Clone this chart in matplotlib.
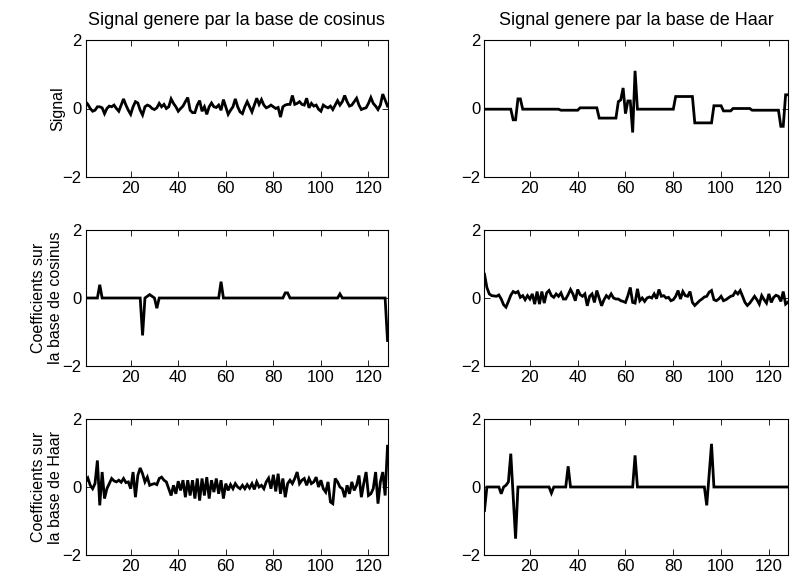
import matplotlib
matplotlib.use("Agg")
import matplotlib.pyplot as plt
import numpy as np

plt.rcParams['font.family'] = ['Liberation Sans', 'DejaVu Sans']

# index axis
n = np.arange(1, 129)

# Signal generated by cosine basis (top-left)
sig_cos = [
    0.20, 0.12, 0.00, -0.08, -0.05, 0.05, 0.05, 0.02, -0.15, 0.00,
    0.07, 0.05, 0.10, 0.00, -0.08, 0.10, 0.28, 0.10, -0.05, -0.17,
    0.05, 0.20, 0.16, -0.05, -0.19, 0.05, 0.10, 0.07, 0.00, -0.03,
    0.02, 0.15, 0.05, 0.12, 0.00, 0.05, 0.28, 0.15, 0.05, -0.08,
    0.00, 0.07, 0.20, 0.32, -0.05, -0.12, -0.12, 0.10, 0.23, -0.08,
    0.05, -0.17, 0.05, 0.16, 0.05, 0.03, 0.10, -0.05, 0.26, 0.05,
    -0.17, -0.05, 0.05, 0.28, 0.05, -0.10, -0.15, 0.05, 0.20, 0.05,
    -0.10, 0.10, 0.30, 0.12, 0.26, 0.10, 0.02, 0.05, 0.10, 0.05,
    0.00, 0.03, -0.25, 0.05, 0.10, 0.12, 0.12, 0.38, 0.12, 0.15,
    0.20, 0.12, 0.10, 0.30, 0.02, 0.15, 0.07, 0.10, -0.02, -0.08,
    0.10, 0.05, 0.02, 0.07, -0.03, 0.10, 0.23, 0.10, 0.20, 0.38,
    0.20, 0.07, 0.10, 0.20, 0.30, 0.10, -0.03, 0.00, 0.02, 0.15,
    0.32, 0.15, 0.07, -0.03, 0.10, 0.42, 0.25, 0.07,
]

# Signal generated by Haar basis (top-right)
sig_haar = (
    [-0.02] * 12 + [-0.33, -0.33, 0.28, 0.28] + [-0.02] * 16 + [-0.05] * 8
    + [0.02] * 8 + [-0.28] * 8
    + [0.20, 0.25, 0.60, -0.15, 0.22, 0.22, -0.70, 1.10]
    + [-0.02] * 16 + [0.35] * 8 + [-0.42] * 8 + [0.08] * 4 + [-0.07] * 4
    + [0.00] * 8 + [-0.05] * 12 + [-0.52, -0.52, 0.40, 0.40]
)

# Cosine coefficients of cosine signal (middle-left)
coef_cos_of_cos = [0.0] * 128
for idx, val in [(7, 0.39), (25, -1.10), (27, 0.05), (28, 0.10), (29, 0.05),
                 (31, -0.30), (58, 0.48), (85, 0.15), (86, 0.15), (108, 0.12),
                 (128, -1.25)]:
    coef_cos_of_cos[idx - 1] = val

# Cosine coefficients of Haar signal (middle-right)
coef_cos_of_haar = [
    0.70, 0.31, 0.12, 0.07, 0.06, 0.05, 0.09, -0.03, -0.20, -0.27,
    -0.10, 0.08, 0.19, 0.15, 0.19, 0.02, 0.07, -0.05, 0.07, -0.03,
    0.12, -0.18, 0.19, -0.18, 0.19, -0.15, 0.15, 0.22, 0.07, 0.02,
    0.12, 0.05, 0.15, -0.03, -0.03, 0.10, 0.25, 0.12, -0.08, 0.25,
    0.10, 0.05, 0.12, -0.23, 0.05, 0.12, -0.13, 0.22, 0.00, -0.23,
    -0.05, 0.07, 0.00, 0.12, 0.00, -0.03, -0.03, -0.08, -0.10, -0.13,
    0.07, 0.31, -0.13, -0.15, 0.27, -0.08, 0.00, -0.10, 0.00, 0.03,
    0.00, 0.12, -0.02, 0.25, 0.05, 0.07, 0.00, 0.02, -0.08, -0.05,
    0.05, 0.22, -0.03, 0.19, 0.07, 0.05, 0.19, -0.13, -0.22, -0.15,
    -0.08, -0.03, 0.03, 0.05, 0.17, 0.22, -0.05, -0.08, -0.03, 0.05,
    -0.08, -0.05, 0.00, 0.05, 0.07, 0.19, 0.12, 0.22, 0.05, -0.13,
    -0.22, -0.15, -0.05, 0.05, -0.05, -0.18, 0.07, -0.05, -0.15, 0.12,
    -0.13, 0.02, 0.08, 0.05, -0.10, 0.19, -0.18, -0.12,
]

# Haar coefficients of cosine signal (bottom-left)
coef_haar_of_cos = [
    0.15, 0.26, 0.05, -0.05, 0.10, 0.78, -0.54, 0.44, -0.34, -0.05,
    0.10, 0.25, 0.18, 0.15, 0.20, 0.14, 0.25, 0.13, 0.15, -0.05,
    0.44, -0.30, 0.34, 0.56, 0.39, 0.15, 0.29, 0.05, 0.08, 0.10,
    0.07, 0.25, 0.29, 0.20, 0.15, -0.05, -0.25, 0.05, -0.20, 0.17,
    -0.10, 0.20, -0.30, 0.20, -0.25, 0.20, -0.34, 0.25, -0.40, 0.25,
    -0.25, 0.29, -0.34, 0.20, -0.15, 0.25, -0.20, 0.20, -0.34, 0.10,
    -0.10, 0.07, -0.05, 0.10, 0.00, -0.05, 0.05, -0.05, 0.07, -0.03,
    0.10, -0.07, 0.15, 0.00, 0.05, -0.05, 0.15, 0.26, -0.05, 0.36,
    -0.13, 0.39, -0.20, 0.25, -0.30, 0.10, 0.20, 0.10, 0.25, 0.44,
    0.10, 0.20, 0.25, 0.05, 0.25, 0.10, 0.15, 0.29, 0.00, 0.20,
    -0.05, -0.15, 0.15, -0.44, -0.49, 0.25, 0.15, 0.00, -0.05, -0.30,
    0.05, -0.20, 0.15, -0.10, 0.05, 0.34, -0.30, 0.10, 0.44, -0.25,
    -0.20, -0.05, 0.44, -0.49, 0.15, 0.44, -0.25, 1.20,
]

# Haar coefficients of Haar signal (bottom-right)
coef_haar_of_haar = [0.0] * 128
for idx, val in [(1, -0.69), (8, -0.20), (10, 0.05), (11, 0.15), (12, 0.98),
                 (13, -0.27), (14, -1.52), (29, -0.18), (36, 0.61), (64, 0.93),
                 (94, -0.54), (95, 0.36), (96, 1.27)]:
    coef_haar_of_haar[idx - 1] = val

titles = ["Signal genere par la base de cosinus", "Signal genere par la base de Haar"]
ylabels = ["Signal", "Coefficients sur\nla base de cosinus", "Coefficients sur\nla base de Haar"]
xticks = [20, 40, 60, 80, 100, 120]
yticks = [-2, 0, 2]
yticklabels = ["\u22122", "0", "2"]

panels = [[sig_cos, sig_haar],
          [coef_cos_of_cos, coef_cos_of_haar],
          [coef_haar_of_cos, coef_haar_of_haar]]

fig = plt.figure(figsize=(7.92, 5.82), dpi=100)
lefts = [85.5 / 792, 484.5 / 792]
widths = [302 / 792, 303.5 / 792]
bottoms = [1 - 177 / 582, 1 - 366 / 582, 1 - 555 / 582]
heights = [137 / 582, 136 / 582, 136 / 582]
label_x = [-0.068, -0.075, -0.075]

for r in range(3):
    for c in range(2):
        ax = fig.add_axes([lefts[c], bottoms[r], widths[c], heights[r]])
        ax.plot(n, panels[r][c], color='black', linewidth=2.0, solid_joinstyle='miter')
        ax.set_xlim(1, 128)
        ax.set_ylim(-2, 2)
        ax.set_xticks(xticks)
        ax.set_yticks(yticks)
        ax.set_yticklabels(yticklabels)
        ax.tick_params(direction='in', top=True, right=True, labelsize=12,
                       length=4, width=0.6, pad=3)
        for s in ax.spines.values():
            s.set_linewidth(0.8)
        if r == 0:
            ax.set_title(titles[c], fontsize=13, pad=11)
        if c == 0:
            ax.set_ylabel(ylabels[r], fontsize=11.5, linespacing=1.15)
            ax.yaxis.set_label_coords(label_x[r], 0.5)

fig.savefig("out.png", dpi=100)
